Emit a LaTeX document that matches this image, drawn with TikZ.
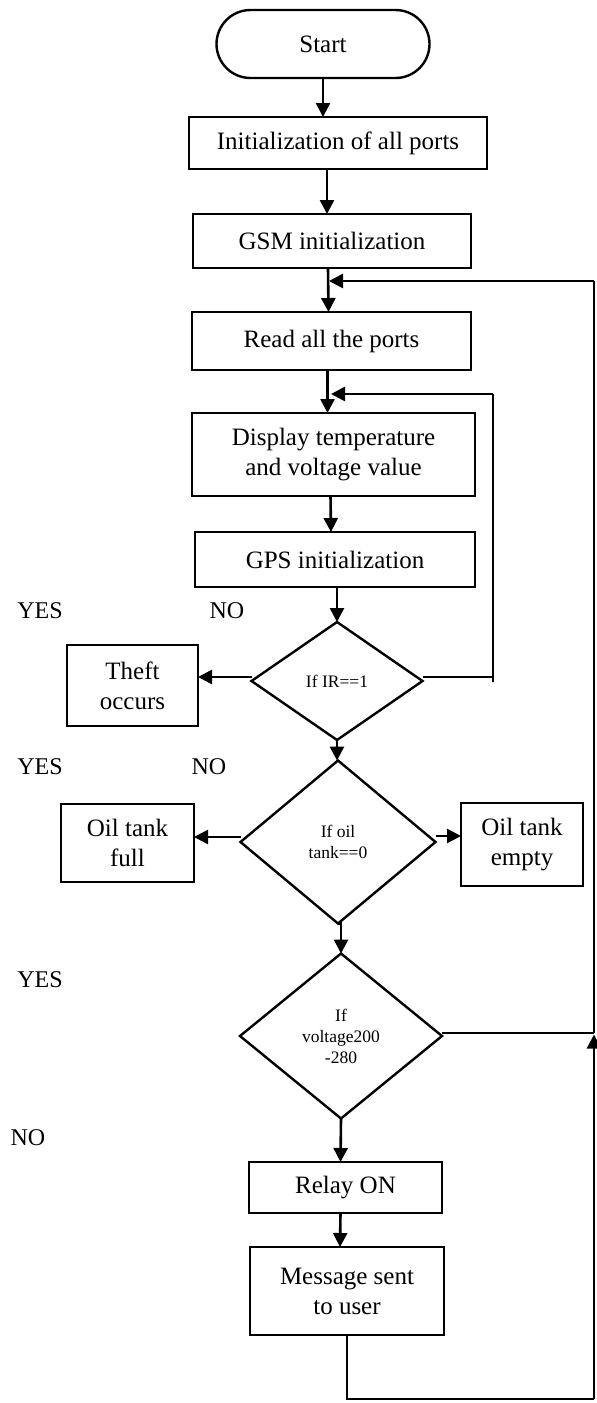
\documentclass[tikz,border=0pt]{standalone}
\usepackage{fontspec}
\setmainfont{Liberation Serif}
\usetikzlibrary{shapes.geometric,arrows.meta}
\begin{document}
\begin{tikzpicture}[x=1pt,y=-1pt,
  box/.style={draw,line width=2.4pt,inner sep=0pt,outer sep=0pt,align=center,font=\fontsize{25}{30}\selectfont},
  dec/.style={draw,diamond,line width=2.4pt,inner sep=0pt,outer sep=0pt,align=center,font=\fontsize{17.5}{21}\selectfont},
  lbl/.style={inner sep=0pt,font=\fontsize{24}{28}\selectfont},
  flow/.style={line width=2.6pt,-{Triangle[length=14pt,width=14pt]}},
  wire/.style={line width=2.6pt}]
\useasboundingbox (0,0) rectangle (597,1403);

\node[box,rounded corners=34pt,minimum width=213pt,minimum height=68pt] (start) at (323,44) {Start};
\node[box,minimum width=298pt,minimum height=52pt] (init) at (338,143) {Initialization of all ports};
\node[box,minimum width=278pt,minimum height=54pt] (gsm) at (332,241) {GSM initialization};
\node[box,minimum width=279pt,minimum height=58pt] (read) at (331.5,341) {Read all the ports};
\node[box,minimum width=283pt,minimum height=83pt] (disp) at (333.5,454.5) {Display temperature\\and voltage value};
\node[box,minimum width=280pt,minimum height=55pt] (gps) at (335,559.5) {GPS initialization};
\node[dec,minimum width=171pt,minimum height=118pt] (ir) at (337,681) {If IR==1};
\node[box,minimum width=131pt,minimum height=81pt] (theft) at (132.5,685.5) {Theft\\occurs};
\node[dec,minimum width=195pt,minimum height=163pt] (oil) at (338,842) {If oil\\tank==0};
\node[box,minimum width=133pt,minimum height=78pt] (full) at (127.5,843) {Oil tank\\full};
\node[box,minimum width=122pt,minimum height=83pt] (empty) at (522,844.5) {Oil tank\\empty};
\node[dec,minimum width=202pt,minimum height=165pt] (volt) at (341,1036) {If\\voltage200\\-280};
\node[box,minimum width=193pt,minimum height=51pt] (relay) at (345.5,1187.5) {Relay ON};
\node[box,minimum width=194pt,minimum height=88pt] (msg) at (347,1291) {Message sent\\to user};

\node[lbl] (yes1) at (40,611) {YES};
\node[lbl] (no1) at (227,611) {NO};
\node[lbl] (yes2) at (40,767) {YES};
\node[lbl] (no2) at (209,767) {NO};
\node[lbl] (yes3) at (40,980) {YES};
\node[lbl] (no3) at (28,1138) {NO};

\coordinate (br) at (594,1399);
\coordinate (tr) at (594,281);
\coordinate (ir2) at (493,677);

\draw[flow] (start.south) -- (start.south |- init.north);
\draw[flow] ([xshift=-11pt]init.south) -- ([xshift=-5pt]gsm.north);
\draw[flow] ([xshift=-4pt]gsm.south) -- ([xshift=-3pt]read.north);
\draw[flow] ([xshift=-4pt]read.south) -- ([xshift=-6pt]disp.north);
\draw[flow] ([xshift=-3pt]disp.south) -- ([xshift=-4pt]gps.north);
\draw[flow] ([xshift=2pt]gps.south) -- (ir.north);
\draw[flow] (ir.south) -- (ir.south |- oil.north);
\draw[flow] (oil.south) -- (oil.south -| volt.north) -- (volt.north);
\draw[flow] (volt.south) -- ([xshift=-5pt]relay.north);
\draw[flow] ([xshift=-5pt]relay.south) -- ([xshift=-7pt]msg.north);

\draw[flow] ([yshift=4pt]ir.west) -- ([yshift=4pt]ir.west -| theft.east);
\draw[flow] ([yshift=5pt]oil.west) -- ([yshift=5pt]oil.west -| full.east);
\draw[flow] ([yshift=6pt]oil.east) -- ([yshift=6pt]oil.east -| empty.west);

\draw[wire] ([yshift=4pt]ir.east) -- (ir2) -- ([yshift=-5pt]ir2) -- (ir2 |- 0,394);
\draw[flow] (ir2 |- 0,394) -- (331,394);

\draw[wire] (msg.south) -- (msg.south |- br) -- (br);
\draw[flow] (br) -- ([yshift=1.5pt]br |- volt.east);
\draw[wire] ([yshift=3pt]volt.east) -- ([yshift=3pt]volt.east -| br);
\draw[wire] ([yshift=3pt]br |- volt.east) -- (tr);
\draw[flow] (tr) -- (329,281);
\end{tikzpicture}
\end{document}
